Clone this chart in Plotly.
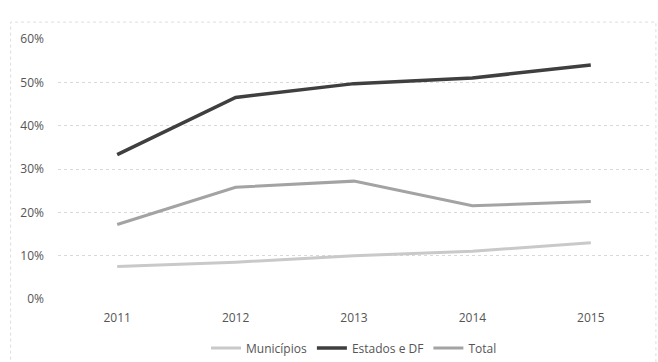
import plotly.graph_objects as go

years = ["2011", "2012", "2013", "2014", "2015"]
municipios = [0.075, 0.085, 0.10, 0.11, 0.13]
estados = [0.333, 0.465, 0.497, 0.51, 0.54]
total = [0.172, 0.258, 0.272, 0.215, 0.225]

fig = go.Figure()
fig.add_trace(go.Scatter(x=years, y=municipios, name="Municípios", mode="lines",
                         line=dict(color="#c9c9c9", width=3)))
fig.add_trace(go.Scatter(x=years, y=estados, name="Estados e DF", mode="lines",
                         line=dict(color="#3f3f3f", width=3.5)))
fig.add_trace(go.Scatter(x=years, y=total, name="Total", mode="lines",
                         line=dict(color="#a3a3a3", width=3)))

fig.update_layout(
    width=658, height=362,
    margin=dict(l=58, r=8, t=39, b=63, autoexpand=False),
    paper_bgcolor="white", plot_bgcolor="white",
    font=dict(family="Open Sans, Liberation Sans, sans-serif", size=12, color="#555555"),
    showlegend=True,
    legend=dict(orientation="h", x=0.5, xanchor="center", yref="container",
                y=0.039, yanchor="middle",
                font=dict(size=12, color="#555555"), itemwidth=30),
    xaxis=dict(type="category", range=[-0.5, 4.5], showgrid=False, showline=False,
               ticks="", ticklabelstandoff=10, tickfont=dict(size=12, color="#555555")),
    yaxis=dict(range=[0, 0.6], dtick=0.1, tickformat=".0%", showgrid=True,
               gridcolor="#d9d9d9", griddash="dot", gridwidth=1, zeroline=False,
               showline=False, ticks="", ticklabelstandoff=13,
               tickfont=dict(size=12, color="#555555")),
    shapes=[dict(type="rect", xref="paper", yref="paper",
                 x0=-0.08, x1=1.01, y0=-0.3, y1=1.065,
                 line=dict(color="#dddddd", width=1, dash="dot"))],
)

fig.write_html("out.html")
